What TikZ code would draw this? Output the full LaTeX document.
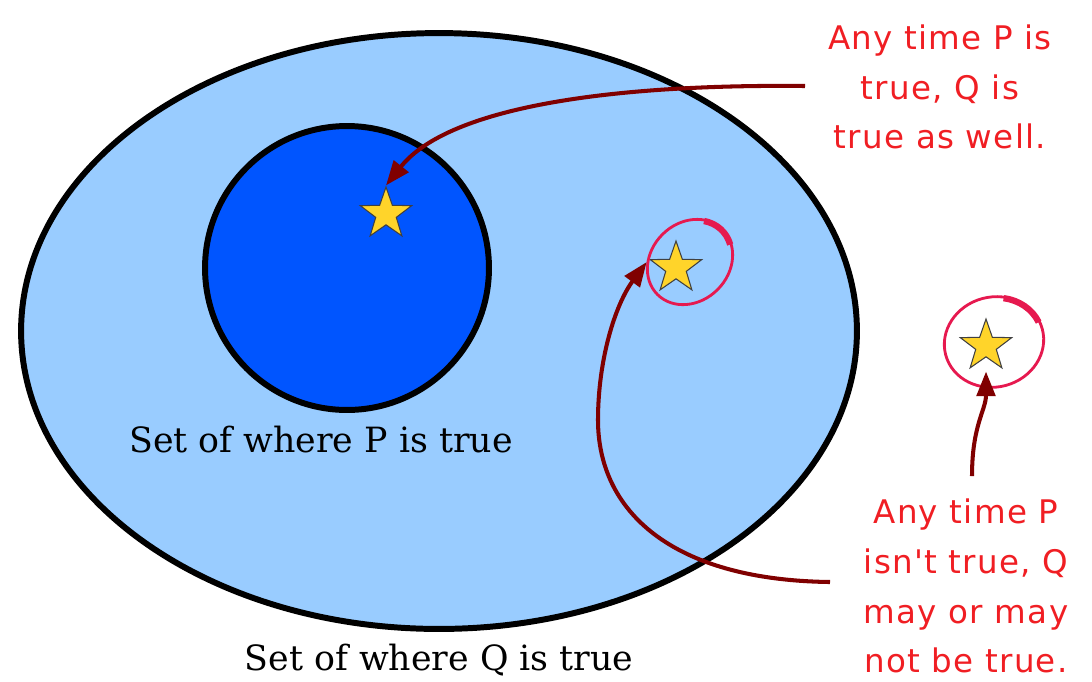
\documentclass[tikz,border=0pt]{standalone}
\usepackage{fontspec}
\setmainfont{DejaVu Serif}
\newfontfamily\handfont[LetterSpace=4]{DejaVu Sans}
\usetikzlibrary{shapes.geometric}
\usetikzlibrary{arrows.meta}
\definecolor{qblue}{HTML}{99CCFF}
\definecolor{pblue}{HTML}{0055FF}
\definecolor{stargold}{HTML}{FFD42A}
\definecolor{arrowred}{HTML}{800000}
\definecolor{ringred}{HTML}{E6194F}
\definecolor{notered}{HTML}{F01E23}

\begin{document}
\begin{tikzpicture}[x=0.02cm,y=-0.02cm,>={Triangle[length=14pt,width=10.5pt]},
region/.style={draw=black,line width=3.4pt,inner sep=0pt},
goldstar/.style={star,star points=5,star point ratio=2.5,draw=black!75,fill=stargold,line width=0.6pt,minimum size=1.08cm,inner sep=0pt},
note/.style={text=notered,font=\handfont\fontsize{18.5}{28.35}\selectfont,align=center},
pointer/.style={->,draw=arrowred,line width=2.3pt},
ring/.style={draw=ringred,line width=1.6pt}]

\useasboundingbox (0,0) rectangle (1092,681);

\node[region,ellipse,fill=qblue,minimum width=16.72cm,minimum height=11.92cm](Q-set) at (439,331){};
\node[region,circle,fill=pblue,minimum size=5.68cm](P-set) at (347,268){};

\node(P-label) at (321,440){\fontsize{19.8}{24}\selectfont Set of where P is true};
\node(Q-label) at (439,660){\fontsize{19.8}{24}\selectfont Set of where Q is true};

\node[goldstar](star-p) at (386,214){};
\node[goldstar](star-q) at (676,268){};
\node[goldstar](star-out) at (986,346){};

% rings round the two stars
\begin{scope}[shift={(690,262)},rotate=45]
\draw[ring] (0,0) ellipse [x radius=46, y radius=39];
\draw[ring,line width=3.6pt] (-30:45 and 38) arc[start angle=-30, end angle=25, x radius=45, y radius=38];
\end{scope}
\begin{scope}[shift={(994,342)},rotate=15]
\draw[ring] (0,0) ellipse [x radius=50, y radius=45];
\draw[ring,line width=3.6pt] (-65:49 and 44) arc[start angle=-65, end angle=-10, x radius=49, y radius=44];
\end{scope}

\node[note](note-top) at (940,87){Any time P is\\true, Q is\\true as well.};
\node[note](note-bottom) at (966,586){Any time P\\isn't true, Q\\may or may\\not be true.};

\coordinate(top-start) at (805,86);
\coordinate(bottom-start) at (830,582);
\coordinate(right-start) at (972,476);

\draw[pointer] (top-start) .. controls (620,84) and (450,105) .. (star-p.north);
\draw[pointer,shorten >=2pt] (bottom-start) .. controls (670,580) and (598,510) .. (598,420)
  .. controls (598,360) and (615,305) .. (star-q.outer point 2);
\draw[pointer,shorten >=8pt] (right-start) .. controls (972,425) and (986,410) .. (star-out.south);

\end{tikzpicture}
\end{document}
